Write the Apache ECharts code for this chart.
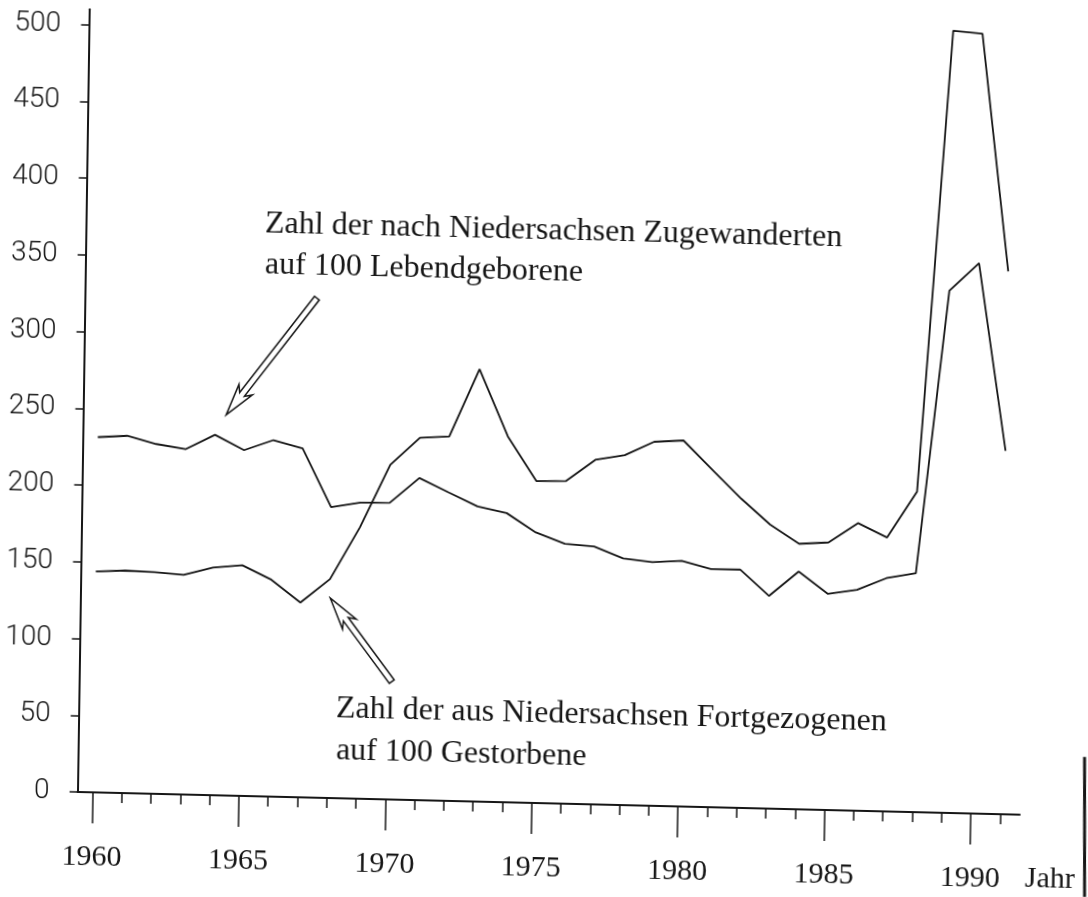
<!DOCTYPE html>
<html><head><meta charset="utf-8">
<script src="https://cdn.jsdelivr.net/npm/echarts@6/dist/echarts.min.js"></script>
<style>
html,body{margin:0;padding:0;background:#fff;overflow:hidden;width:1088px;height:897px}
#chart{position:absolute;left:0;top:0;width:1088px;height:897px;transform-origin:75px 792px;transform:matrix(1,0.0241,-0.015,1,0,0);}
</style></head><body><div id="chart"></div>
<script>
// ---- data ----
const years = [1960,1961,1962,1963,1964,1965,1966,1967,1968,1969,1970,1971,1972,1973,1974,1975,
               1976,1977,1978,1979,1980,1981,1982,1983,1984,1985,1986,1987,1988,1989,1990,1991];
// Zahl der nach Niedersachsen Zugewanderten auf 100 Lebendgeborene
const zugewanderte = [231.5,232.8,227.9,225.0,234.8,225.3,232.3,227.3,189.6,193.0,193.3,209.9,201.0,192.3,188.4,176.3,
                      169.3,168.0,160.7,158.7,160.1,155.2,155.3,138.6,154.9,140.9,143.9,152.0,155.7,340.2,358.7,236.8];
// Zahl der aus Niedersachsen Fortgezogenen auf 100 Gestorbene
const fortgezogene = [143.9,145.0,144.4,143.1,148.3,150.3,141.3,126.9,142.6,177.0,218.1,236.1,237.4,281.8,238.4,209.7,
                      210.2,224.5,228.0,237.2,238.5,219.9,201.5,185.1,173.0,174.3,187.4,178.5,208.9,509.7,508.2,353.7];
const yTickValues = [0,50,100,150,200,250,300,350,400,450,500];
const xMajorTicks = [1960,1965,1970,1975,1980,1985,1990];
const xMinorTicks = [1961,1962,1963,1964,1966,1967,1968,1969,1971,1972,1973,1974,1976,1977,1978,1979,
                     1981,1982,1983,1984,1986,1987,1988,1989,1991];
const xAxisName = 'Jahr';
const labelZu = ['Zahl der nach Niedersachsen Zugewanderten', 'auf 100 Lebendgeborene'];
const labelFort = ['Zahl der aus Niedersachsen Fortgezogenen', 'auf 100 Gestorbene'];
// arrow anchors in data coordinates [year, value]
const arrowZuTail = [1967.41, 325.5], arrowZuTip = [1964.37, 248.0];
const arrowFortTail = [1970.16, 76.8], arrowFortTip = [1968.02, 130.2];

const INK = '#161616';
const chart = echarts.init(document.getElementById('chart'), null, {renderer: 'canvas'});
const serif = '"Liberation Serif", "DejaVu Serif", serif';

chart.setOption({
  animation: false,
  backgroundColor: '#fff',
  grid: {left: 75, right: 68, top: 9.35, bottom: 105, containLabel: false},
  xAxis: [{
    type: 'value', min: 1959.49, max: 1991.67, position: 'bottom',
    axisLine: {show: true, lineStyle: {color: INK, width: 2}},
    axisTick: {show: true, length: 31, lineStyle: {color: INK, width: 1.5}, customValues: xMajorTicks},
    axisLabel: {show: true, margin: 50, color: INK, fontFamily: serif, fontSize: 30, customValues: xMajorTicks,
                formatter: v => String(v)},
    splitLine: {show: false},
    name: xAxisName, nameLocation: 'end', nameGap: 6,
    nameTextStyle: {color: INK, fontFamily: serif, fontSize: 30, align: 'left', verticalAlign: 'top', padding: [49, 0, 0, 0]}
  }, {
    type: 'value', min: 1959.49, max: 1991.67, position: 'bottom',
    axisLine: {show: false},
    axisTick: {show: true, length: 10, lineStyle: {color: INK, width: 1.5}, customValues: xMinorTicks},
    axisLabel: {show: false},
    splitLine: {show: false}
  }],
  yAxis: {
    type: 'value', min: 0, max: 510,
    axisLine: {show: true, lineStyle: {color: INK, width: 2}},
    axisTick: {show: true, length: 8, lineStyle: {color: INK, width: 1.5}, customValues: yTickValues},
    axisLabel: {show: true, margin: 28, color: INK, fontFamily: 'Roboto, "Open Sans", sans-serif', fontWeight: 300,
                fontSize: 28, customValues: yTickValues, formatter: v => String(v)},
    splitLine: {show: false}
  },
  series: [{
    name: labelZu.join(' '), type: 'line', xAxisIndex: 0, yAxisIndex: 0,
    data: years.map((y, i) => [y, zugewanderte[i]]),
    symbol: 'none', clip: false, silent: true,
    lineStyle: {color: INK, width: 1.8}
  }, {
    name: labelFort.join(' '), type: 'line', xAxisIndex: 0, yAxisIndex: 0,
    data: years.map((y, i) => [y, fortgezogene[i]]),
    symbol: 'none', clip: false, silent: true,
    lineStyle: {color: INK, width: 1.8}
  }]
});

function px(p) { return chart.convertToPixel({xAxisIndex: 0, yAxisIndex: 0}, p); }
function arrowShape(tailData, tipData) {
  const S = px(tailData), T = px(tipData);
  const dx = T[0] - S[0], dy = T[1] - S[1], len = Math.hypot(dx, dy);
  const d = [dx / len, dy / len], n = [-d[1], d[0]];
  const L = 32, hw = 8.5, sw = 3, notch = 6;
  const at = (base, along, side) => [base[0] + d[0] * along + n[0] * side, base[1] + d[1] * along + n[1] * side];
  const pts = [
    at(S, 0, sw), at(T, -(L - notch), sw), at(T, -L, hw), [T[0], T[1]],
    at(T, -L, -hw), at(T, -(L - notch), -sw), at(S, 0, -sw)
  ];
  return {type: 'polygon', shape: {points: pts}, style: {fill: '#fff', stroke: INK, lineWidth: 1.5}, z: 10};
}
const font = '32px ' + serif;
function txt(s, x, y) {
  return {type: 'text', x: x, y: y, z: 10, style: {text: s, font: font, fill: INK, align: 'left', verticalAlign: 'middle'}};
}
chart.setOption({
  graphic: [
    arrowShape(arrowZuTail, arrowZuTip),
    arrowShape(arrowFortTail, arrowFortTip),
    txt(labelZu[0], 256.5, 219.4),
    txt(labelZu[1], 257.1, 260.4),
    txt(labelFort[0], 334.8, 702.7),
    txt(labelFort[1], 335.4, 744.7),
    {type: 'line', shape: {x1: 1084, y1: 732.7, x2: 1086.1, y2: 872.7}, style: {stroke: INK, lineWidth: 3}, z: 10}
  ]
});
</script></body></html>
